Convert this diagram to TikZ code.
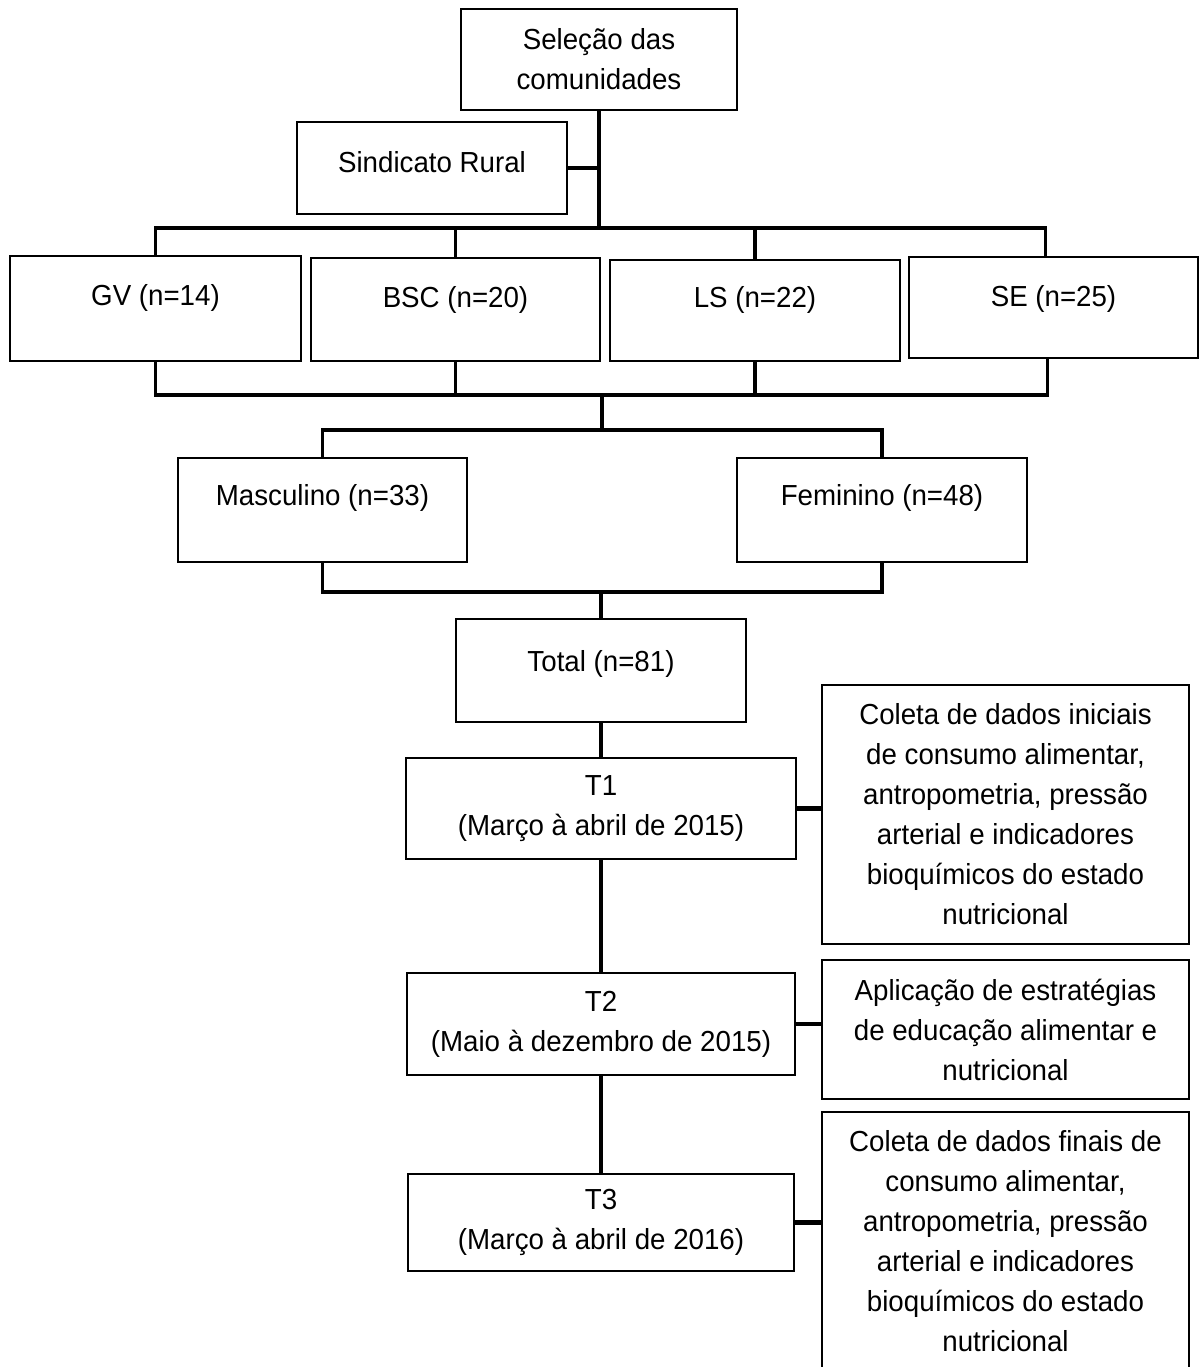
\documentclass[tikz,border=0pt]{standalone}
\usepackage{fontspec}
\setmainfont[FakeStretch=0.955]{Liberation Sans}
\usetikzlibrary{positioning}

\begin{document}
\begin{tikzpicture}[
  x=1pt, y=-1pt,
  box/.style={draw, line width=2pt, inner sep=0pt, align=center,
    font={\fontsize{29pt}{40pt}\selectfont}},
  raised/.style={text height=21pt, text depth=#1},
  conn/.style={line width=3.5pt, line cap=rect},
  link/.style={line width=4.5pt}
]
\useasboundingbox (0,0) rectangle (1199,1367);

% selection
\node[box, minimum width=276pt, minimum height=101pt] (sel) at (599,59.5) {Seleção das\\comunidades};
\node[box, raised=12pt, minimum width=270pt, minimum height=92pt] (sind) at (432,168) {Sindicato Rural};

% communities
\node[box, raised=27pt, minimum width=291pt, minimum height=105pt] (gv) at (155.5,308.5) {GV (n=14)};
\node[box, raised=25pt, minimum width=289pt, minimum height=103pt] (bsc) at (455.5,309.5) {BSC (n=20)};
\node[box, raised=27pt, minimum width=290pt, minimum height=101pt] (ls) at (755,310.5) {LS (n=22)};
\node[box, raised=23pt, minimum width=289pt, minimum height=101pt] (se) at (1053.5,307.5) {SE (n=25)};

% sex
\node[box, raised=30pt, minimum width=289pt, minimum height=104pt] (masc) at (322.5,510) {Masculino (n=33)};
\node[box, raised=30pt, minimum width=290pt, minimum height=104pt] (fem) at (882,510) {Feminino (n=48)};

\node[box, raised=19pt, minimum width=290pt, minimum height=103pt] (total) at (601,670.5) {Total (n=81)};

% time points
\node[box, minimum width=390pt, minimum height=101pt] (t1) at (601,808.5) {T1\\(Março à abril de 2015)};
\node[box, minimum width=388pt, minimum height=102pt] (t2) at (601,1024) {T2\\(Maio à dezembro de 2015)};
\node[box, minimum width=386pt, minimum height=97pt] (t3) at (601,1222.5) {T3\\(Março à abril de 2016)};

\node[box, minimum width=367pt, minimum height=259pt] (d1) at (1005.5,814.5) {Coleta de dados iniciais\\de consumo alimentar,\\antropometria, pressão\\arterial e indicadores\\bioquímicos do estado\\nutricional};
\node[box, minimum width=367pt, minimum height=139pt] (d2) at (1005.5,1029.5) {Aplicação de estratégias\\de educação alimentar e\\nutricional};
\node[box, minimum width=367pt, minimum height=258pt] (d3) at (1005.5,1241) {Coleta de dados finais de\\consumo alimentar,\\antropometria, pressão\\arterial e indicadores\\bioquímicos do estado\\nutricional};

\coordinate (bartop) at (600,228);
\coordinate (barbot) at (602,395);
\coordinate (sexsplit) at (602,430);
\coordinate (sexjoin) at (601,592);
\coordinate (sedrop) at ([xshift=-8pt]se.north);
\coordinate (seup) at ([xshift=-6pt]se.south);

\draw[conn] (sel.south) -- (sel.south |- bartop);
\draw[conn] (sind.east) -- (sind.east -| sel.south);
\draw[conn] (gv.north |- bartop) -- (sedrop |- bartop);
\foreach \c in {gv,bsc,ls}
  \draw[conn] (\c.north |- bartop) -- (\c.north);
\draw[conn] (sedrop |- bartop) -- (sedrop);

\foreach \c in {gv,bsc,ls}
  \draw[conn] (\c.south) -- (\c.south |- barbot);
\draw[conn] (seup) -- (seup |- barbot);
\draw[conn] (gv.south |- barbot) -- (seup |- barbot);
\draw[conn] (barbot) -- (sexsplit);

\draw[conn] (masc.north |- sexsplit) -- (fem.north |- sexsplit);
\draw[conn] (masc.north |- sexsplit) -- (masc.north);
\draw[conn] (fem.north |- sexsplit) -- (fem.north);
\draw[conn] (masc.south) -- (masc.south |- sexjoin) -- (fem.south |- sexjoin) -- (fem.south);
\draw[conn] (sexjoin) -- (total.north);

\draw[conn] (total) -- (t1);
\draw[conn] (t1) -- (t2);
\draw[conn] (t2) -- (t3);
%\draw[conn] (t3.south) -- ++(0,40);

\draw[link] (t1.east) -- (t1.east -| d1.west);
\draw[link] (t2.east) -- (t2.east -| d2.west);
\draw[link] (t3.east) -- (t3.east -| d3.west);
\end{tikzpicture}
\end{document}
